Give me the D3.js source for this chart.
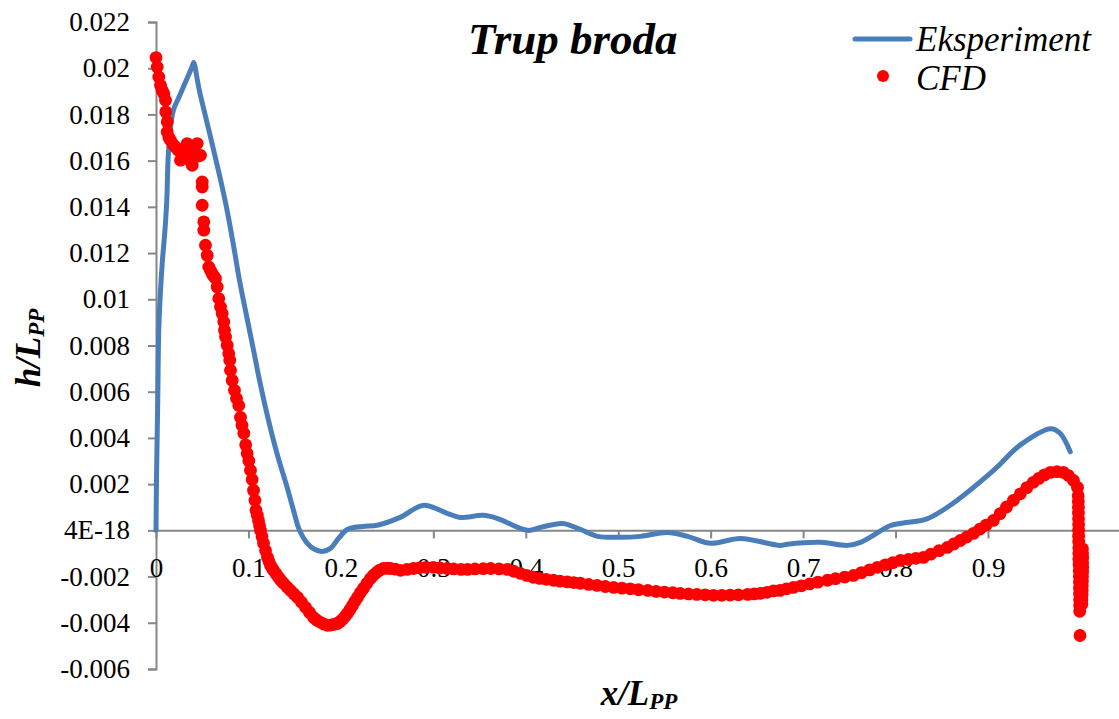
<!DOCTYPE html>
<html>
<head>
<meta charset="utf-8">
<script src="https://cdn.jsdelivr.net/npm/d3@7/dist/d3.min.js"></script>
</head>
<body style="margin:0">
<svg id="chart" width="1119" height="719"></svg>
<script>
// Measured wave profile along the hull (Eksperiment)
const expX = [0, 0.0005, 0.0019, 0.0030, 0.0049, 0.0070, 0.0097, 0.0117, 0.0130, 0.0151, 0.0189, 0.0243, 0.0319,
  0.0373, 0.0395, 0.0408, 0.0420, 0.0438, 0.0471, 0.0514, 0.0579, 0.0644, 0.0708, 0.0773, 0.0838, 0.0903, 0.0979,
  0.1055, 0.1130, 0.1217, 0.1314, 0.1412, 0.1487, 0.1552, 0.1628, 0.1714, 0.1800, 0.1887, 0.1974, 0.2070, 0.2233,
  0.2395, 0.2640, 0.2890, 0.3150, 0.3290, 0.3540, 0.3690, 0.4020, 0.4160, 0.4400, 0.4590, 0.4780, 0.5020, 0.5240,
  0.5530, 0.5750, 0.6000, 0.6320, 0.6750, 0.6830, 0.7190, 0.7480, 0.7620, 0.7940, 0.8050, 0.8340, 0.8560, 0.9060,
  0.9350, 0.9680, 0.9780, 0.9890];
const expH = [0, 0.00216, 0.00563, 0.00866, 0.0104, 0.0117, 0.0130, 0.0143, 0.0160, 0.0172, 0.0182, 0.0187, 0.0194,
  0.0199, 0.02012, 0.02025, 0.02010, 0.0197, 0.0190, 0.01827, 0.0172, 0.0161, 0.0150, 0.01377, 0.01234, 0.01082,
  0.0093, 0.0078, 0.0063, 0.00476, 0.00325, 0.00195, 0.00087, 0, -0.00052, -0.00082, -0.00091, -0.00078, -0.00035,
  0.00004, 0.00017, 0.00022, 0.00056, 0.00108, 0.00074, 0.00056, 0.00065, 0.00052, 0, 0.00013, 0.0003, 0.00004,
  -0.00026, -0.0003, -0.00026, -0.00009, -0.00026, -0.00056, -0.00035, -0.00065, -0.0006, -0.00052, -0.00065,
  -0.00052, 0.0002, 0.0003, 0.0005, 0.001, 0.0026, 0.0037, 0.0044, 0.0042, 0.0034];

// Computed wave profile (CFD)
const cfdX = [0.0000, 0.0013, 0.0030, 0.0049, 0.0066, 0.0084, 0.0103, 0.0105, 0.0121, 0.0121, 0.0140, 0.0157,
  0.0185, 0.0211, 0.0240, 0.0265, 0.0265, 0.0300, 0.0337, 0.0355, 0.0370, 0.0392, 0.0410, 0.0446, 0.0455, 0.0481,
  0.0500, 0.0500, 0.0500, 0.0517, 0.0517, 0.0535, 0.0554, 0.0571, 0.0590, 0.0608, 0.0625, 0.0644, 0.0662, 0.0679,
  0.0698, 0.0716, 0.0733, 0.0741, 0.0752, 0.0770, 0.0787, 0.0798, 0.0806, 0.0824, 0.0849, 0.0871, 0.0895, 0.0914,
  0.0930, 0.0950, 0.0970, 0.0986, 0.1004, 0.1022, 0.1040, 0.1055, 0.1070, 0.1082, 0.1096, 0.1109, 0.1120, 0.1130,
  0.1147, 0.1163, 0.1185, 0.1206, 0.1222, 0.1239, 0.1255, 0.1271, 0.1298, 0.1325, 0.1350, 0.1379, 0.1417, 0.1455,
  0.1493, 0.1531, 0.1574, 0.1617, 0.1660, 0.1704, 0.1740, 0.1780, 0.1818, 0.1855, 0.1890, 0.1920, 0.1963, 0.1990,
  0.2018, 0.2045, 0.2071, 0.2098, 0.2125, 0.2150, 0.2180, 0.2210, 0.2244, 0.2280, 0.2320, 0.2352, 0.2385, 0.2420,
  0.2460, 0.2500, 0.2536, 0.2590, 0.2645, 0.2715, 0.2785, 0.2850, 0.2920, 0.3000, 0.3070, 0.3150, 0.3220, 0.3300,
  0.3370, 0.3450, 0.3540, 0.3620, 0.3710, 0.3800, 0.3870, 0.3940, 0.4010, 0.4080, 0.4150, 0.4220, 0.4300, 0.4370,
  0.4450, 0.4520, 0.4590, 0.4680, 0.4770, 0.4860, 0.4950, 0.5040, 0.5130, 0.5220, 0.5320, 0.5410, 0.5500, 0.5590,
  0.5670, 0.5760, 0.5850, 0.5940, 0.6030, 0.6120, 0.6210, 0.6300, 0.6400, 0.6470, 0.6536, 0.6610, 0.6680, 0.6750,
  0.6820, 0.6895, 0.6980, 0.7070, 0.7160, 0.7264, 0.7350, 0.7450, 0.7545, 0.7630, 0.7720, 0.7804, 0.7890, 0.7970,
  0.8053, 0.8140, 0.8220, 0.8302, 0.8380, 0.8470, 0.8560, 0.8630, 0.8700, 0.8770, 0.8843, 0.8910, 0.8980, 0.9058,
  0.9130, 0.9200, 0.9275, 0.9350, 0.9420, 0.9490, 0.9550, 0.9610, 0.9676, 0.9746, 0.9816, 0.9870, 0.9925, 0.9968,
  0.9975, 0.9977, 0.9978, 0.9978, 0.9979, 0.9980, 0.9980, 0.9980, 0.9981, 0.9982, 0.9982, 0.9983, 0.9985, 0.9986,
  0.9988, 0.9989, 0.9990, 0.9990, 0.9990, 0.9991, 0.9992, 0.9995,
  1.0022, 1.0023, 1.0024, 1.0024, 1.0024, 1.0023, 1.0022, 1.0021, 1.0020, 1.0019, 1.0018, 1.0016, 1.0015];
const cfdH = [0.02046, 0.02005, 0.01962, 0.01926, 0.01905, 0.01890, 0.01861, 0.01811, 0.01768, 0.01724, 0.01700,
  0.01688, 0.01670, 0.01659, 0.01645, 0.01638, 0.01602, 0.01650, 0.01674, 0.01631, 0.01600, 0.01580, 0.01640,
  0.01674, 0.01620, 0.01623, 0.01508, 0.01486, 0.01407, 0.01335, 0.01299, 0.01234, 0.01190, 0.01140, 0.01125,
  0.01110, 0.01100, 0.01090, 0.01053, 0.01003, 0.00967, 0.00938, 0.00902, 0.00866, 0.00837, 0.00801, 0.00765,
  0.00736, 0.00693, 0.00649, 0.00606, 0.00571, 0.00540, 0.00489, 0.00455, 0.00420, 0.00370, 0.00333, 0.00300,
  0.00260, 0.00220, 0.00173, 0.00130, 0.00087, 0.00065, 0.00043, 0.00020, 0.00000, -0.00028, -0.00056, -0.00087,
  -0.00117, -0.00135, -0.00152, -0.00163, -0.00173, -0.00188, -0.00203, -0.00216, -0.00229, -0.00245, -0.00260,
  -0.00275, -0.00290, -0.00311, -0.00333, -0.00355, -0.00377, -0.00389, -0.00398, -0.00406, -0.00411, -0.00410,
  -0.00407, -0.00403, -0.00395, -0.00385, -0.00373, -0.00359, -0.00343, -0.00325, -0.00308, -0.00290, -0.00270,
  -0.00251, -0.00230, -0.00208, -0.00194, -0.00182, -0.00172, -0.00165, -0.00164, -0.00165, -0.00168, -0.00173,
  -0.00169, -0.00165, -0.00162, -0.00160, -0.00160, -0.00163, -0.00165, -0.00167, -0.00169, -0.00169, -0.00167,
  -0.00166, -0.00165, -0.00167, -0.00169, -0.00177, -0.00186, -0.00195, -0.00203, -0.00208, -0.00212, -0.00216,
  -0.00220, -0.00223, -0.00226, -0.00229, -0.00234, -0.00238, -0.00243, -0.00247, -0.00250, -0.00253, -0.00257,
  -0.00260, -0.00264, -0.00267, -0.00270, -0.00273, -0.00275, -0.00277, -0.00279, -0.00281, -0.00281, -0.00280,
  -0.00279, -0.00277, -0.00275, -0.00273, -0.00268, -0.00262, -0.00260, -0.00253, -0.00247, -0.00240, -0.00232,
  -0.00224, -0.00216, -0.00209, -0.00202, -0.00195, -0.00183, -0.00171, -0.00160, -0.00149, -0.00140, -0.00130,
  -0.00126, -0.00121, -0.00117, -0.00103, -0.00088, -0.00074, -0.00059, -0.00044, -0.00029, -0.00013, 0.00005,
  0.00023, 0.00043, 0.00072, 0.00101, 0.00130, 0.00158, 0.00185, 0.00208, 0.00225, 0.00240, 0.00251, 0.00254,
  0.00251, 0.00237, 0.00216, 0.00186,
  0.00150, 0.00125, 0.00100, 0.00075, 0.00050, 0.00025, 0.00000, -0.00025, -0.00050, -0.00075, -0.00100, -0.00125,
  -0.00150, -0.00175, -0.00200, -0.00225, -0.00250, -0.00275, -0.00300, -0.00325, -0.00350, -0.00455,
  -0.00080, -0.00100, -0.00120, -0.00140, -0.00160, -0.00180, -0.00200, -0.00220, -0.00240, -0.00260, -0.00280,
  -0.00300, -0.00320];

// Axis ticks and labels
const xTickValues = [0, 0.1, 0.2, 0.3, 0.4, 0.5, 0.6, 0.7, 0.8, 0.9, 1];
const xTickLabels = ["0", "0.1", "0.2", "0.3", "0.4", "0.5", "0.6", "0.7", "0.8", "0.9", "1"];
const yTickValues = [0.022, 0.02, 0.018, 0.016, 0.014, 0.012, 0.01, 0.008, 0.006, 0.004, 0.002, 0, -0.002, -0.004, -0.006];
const yTickLabels = ["0.022", "0.02", "0.018", "0.016", "0.014", "0.012", "0.01", "0.008", "0.006", "0.004",
  "0.002", "4E-18", "-0.002", "-0.004", "-0.006"];

const titleText = "Trup broda";
const seriesNames = ["Eksperiment", "CFD"];
const seriesColors = ["#4a7ebb", "#ff0000"];

const fontName = "Liberation Serif";

const svg = d3.select("#chart");
const W = 1119, H = 719;
svg.append("rect").attr("width", W).attr("height", H).attr("fill", "#fff");

const plot = { left: 156, right: 1119, top: 22, bottom: 669 };
const xMax = 1.0417;

const x = d3.scaleLinear().domain([0, xMax]).range([plot.left, plot.right]);
const y = d3.scaleLinear().domain([-0.006, 0.022]).range([plot.bottom, plot.top]);

const axisColor = "#868686";

function styleText(sel, size) {
  return sel
    .attr("font-family", fontName)
    .style("font-family", `"${fontName}"`)
    .style("font-size", size + "px")
    .attr("fill", "#000");
}

// Vertical axis
const yAxis = d3.axisLeft(y)
  .tickValues(yTickValues)
  .tickFormat((d, i) => yTickLabels[i])
  .tickSize(8)
  .tickPadding(18);
const gy = svg.append("g").attr("transform", `translate(${plot.left},0)`).call(yAxis);
gy.attr("font-family", fontName).attr("font-size", 27);
gy.select(".domain").attr("stroke", axisColor).attr("stroke-width", 2);
gy.selectAll(".tick line").attr("stroke", axisColor).attr("stroke-width", 2);
styleText(gy.selectAll(".tick text"), 27);

// Horizontal axis through zero
const xAxis = d3.axisBottom(x)
  .tickValues(xTickValues)
  .tickFormat((d, i) => xTickLabels[i])
  .tickSize(8)
  .tickSizeOuter(0)
  .tickPadding(19);
const gx = svg.append("g").attr("transform", `translate(0,${y(0)})`).call(xAxis);
gx.attr("font-family", fontName).attr("font-size", 27);
gx.select(".domain").attr("stroke", axisColor).attr("stroke-width", 2);
gx.selectAll(".tick line").attr("stroke", axisColor).attr("stroke-width", 2);
styleText(gx.selectAll(".tick text"), 27);

// Experimental curve
const expData = expX.map((v, i) => [v, expH[i]]);
const line = d3.line().x(d => x(d[0])).y(d => y(d[1])).curve(d3.curveCatmullRom.alpha(0.5));
svg.append("path")
  .datum(expData)
  .attr("d", line)
  .attr("fill", "none")
  .attr("stroke", seriesColors[0])
  .attr("stroke-width", 5)
  .attr("stroke-linejoin", "round")
  .attr("stroke-linecap", "round");

// CFD points
const cfdData = cfdX.map((v, i) => [v, cfdH[i]]);
svg.append("g")
  .selectAll("circle")
  .data(cfdData)
  .join("circle")
  .attr("cx", d => x(d[0]))
  .attr("cy", d => y(d[1]))
  .attr("r", 6.4)
  .attr("fill", seriesColors[1]);

// Title
styleText(svg.append("text"), 45)
  .attr("x", 468).attr("y", 54)
  .style("font-weight", "bold").style("font-style", "italic")
  .text(titleText);

// Legend
const lg = svg.append("g");
lg.append("line").attr("x1", 855).attr("x2", 910).attr("y1", 39).attr("y2", 39)
  .attr("stroke", seriesColors[0]).attr("stroke-width", 5).attr("stroke-linecap", "round");
styleText(lg.append("text"), 35).attr("x", 916).attr("y", 51).style("font-style", "italic").text(seriesNames[0]);
lg.append("circle").attr("cx", 883).attr("cy", 76).attr("r", 6).attr("fill", seriesColors[1]);
styleText(lg.append("text"), 35).attr("x", 916).attr("y", 90).style("font-style", "italic").text(seriesNames[1]);

// Axis titles
const xt = styleText(svg.append("text"), 35)
  .attr("x", 639).attr("y", 705)
  .attr("text-anchor", "middle")
  .style("font-weight", "bold").style("font-style", "italic");
xt.append("tspan").text("x/L");
xt.append("tspan").style("font-size", "23px").attr("dy", 4).text("PP");

const yt = styleText(svg.append("text"), 35)
  .attr("transform", "translate(40,348) rotate(-90)")
  .attr("text-anchor", "middle")
  .style("font-weight", "bold").style("font-style", "italic");
yt.append("tspan").text("h/L");
yt.append("tspan").style("font-size", "23px").attr("dy", 4).text("PP");
</script>
</body>
</html>
